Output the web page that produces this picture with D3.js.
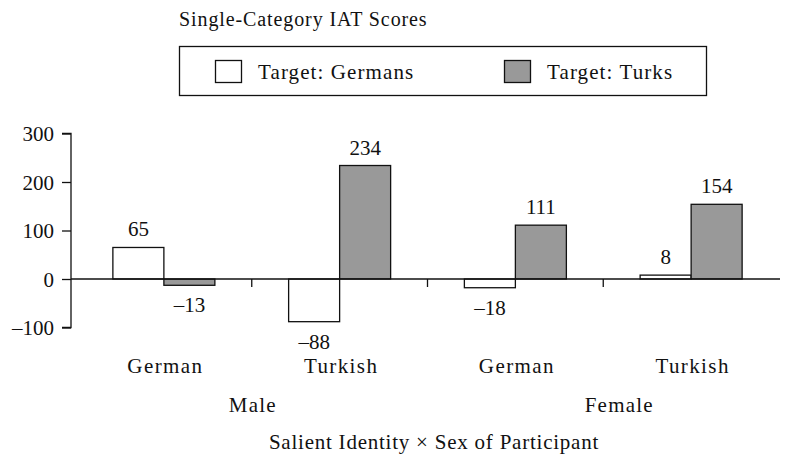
<!DOCTYPE html>
<html><head><meta charset="utf-8">
<script src="https://cdn.jsdelivr.net/npm/d3@7"></script>
<style>body{margin:0;background:#fff}svg{display:block}text{font-family:"Liberation Serif","Times New Roman",serif;fill:#111}</style>
</head><body><svg id="c" width="796" height="458"></svg>
<script>
const categories = ["German", "Turkish", "German", "Turkish"];
const sexes = ["Male", "Female"];
const seriesNames = ["Target: Germans", "Target: Turks"];
const germans = [65, -88, -18, 8];
const turks = [-13, 234, 111, 154];
const yTicks = [-100, 0, 100, 200, 300];
const colors = ["#ffffff", "#999999"];

const svg = d3.select("#c");
const FS = 21;
const LS = 1.1;
const y = d3.scaleLinear().domain([-100, 300]).range([327.5, 133.5]);
const x = d3.scaleBand().domain(d3.range(categories.length)).range([76, 779]).padding(0);
const barW = 51;
const fmt = v => v < 0 ? "\u2013" + Math.abs(v) : String(v);
const ink = "#111";

// title
svg.append("text").attr("x", 179).attr("y", 26).attr("font-size", FS - 1).attr("letter-spacing", 0.9)
  .text("Single-Category IAT Scores");

// legend
svg.append("rect").attr("x", 179.5).attr("y", 46.5).attr("width", 527).attr("height", 49)
  .attr("fill", "none").attr("stroke", ink).attr("stroke-width", 1.3);
const legX = [215, 504], legTX = [258, 547];
seriesNames.forEach((n, i) => {
  svg.append("rect").attr("x", legX[i] + 0.5).attr("y", 60.5).attr("width", 26).attr("height", 22)
    .attr("fill", colors[i]).attr("stroke", ink).attr("stroke-width", 1.3);
  svg.append("text").attr("x", legTX[i]).attr("y", 79).attr("font-size", FS).attr("letter-spacing", LS).text(n);
});

// y axis
const yAxis = d3.axisLeft(y).tickValues(yTicks).tickSize(9).tickPadding(8).tickFormat(fmt);
const gy = svg.append("g").attr("transform", "translate(71,0)").call(yAxis);
gy.select(".domain").attr("d", `M-9,${y(300)}H0V${y(-100)}H-9`).attr("stroke", ink).attr("stroke-width", 1.3);
gy.selectAll(".tick line").attr("stroke", ink).attr("stroke-width", 1.3);
gy.selectAll(".tick text").attr("font-size", FS).attr("font-family", "Liberation Serif").attr("fill", ink).attr("dy", "0.35em");

// bars
const series = [germans, turks];
series.forEach((vals, s) => {
  svg.append("g").selectAll("rect").data(vals).join("rect")
    .attr("x", (d, i) => x(i) + x.bandwidth() / 2 + (s === 0 ? -barW : 0))
    .attr("y", d => y(Math.max(0, d)))
    .attr("width", barW)
    .attr("height", d => Math.abs(y(d) - y(0)))
    .attr("fill", colors[s]).attr("stroke", ink).attr("stroke-width", 1.3);
  svg.append("g").selectAll("text").data(vals).join("text")
    .attr("x", (d, i) => x(i) + x.bandwidth() / 2 + (s === 0 ? -barW / 2 : barW / 2))
    .attr("y", d => d >= 0 ? y(d) - 11 : y(d) + 27)
    .attr("text-anchor", "middle").attr("font-size", FS).text(fmt);
});

// x axis line with ticks at group boundaries
svg.append("line").attr("x1", 71).attr("x2", 780).attr("y1", y(0)).attr("y2", y(0)).attr("stroke", ink).attr("stroke-width", 1.3);
d3.range(1, categories.length).forEach(i => {
  svg.append("line").attr("x1", x(i)).attr("x2", x(i)).attr("y1", y(0)).attr("y2", y(0) + 8).attr("stroke", ink).attr("stroke-width", 1.3);
});

// category labels
svg.append("g").selectAll("text").data(categories).join("text")
  .attr("x", (d, i) => x(i) + x.bandwidth() / 2 + 1.5).attr("y", 373)
  .attr("text-anchor", "middle").attr("font-size", FS).attr("letter-spacing", 1.4).text(d => d);
// sex labels
const sexNudge = [1, 16];
svg.append("g").selectAll("text").data(sexes).join("text")
  .attr("x", (d, i) => (x(2 * i) + x(2 * i + 1) + x.bandwidth()) / 2 + sexNudge[i]).attr("y", 412)
  .attr("text-anchor", "middle").attr("font-size", FS).attr("letter-spacing", 1.2).text(d => d);
svg.append("text").attr("x", 434).attr("y", 449).attr("text-anchor", "middle").attr("font-size", FS)
  .attr("letter-spacing", 0.77).text("Salient Identity \u00d7 Sex of Participant");
</script></body></html>
